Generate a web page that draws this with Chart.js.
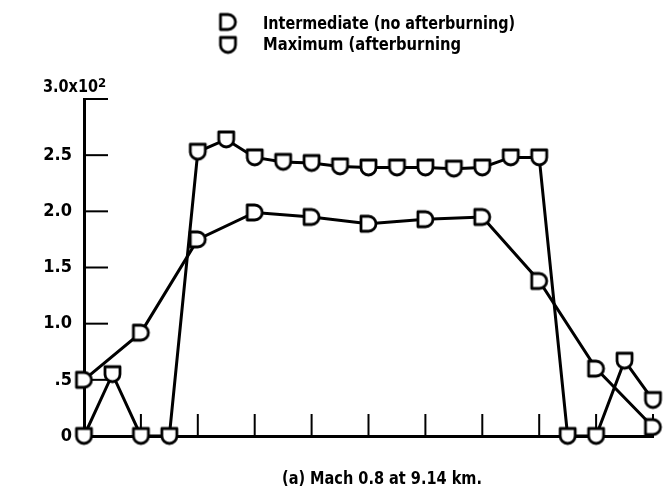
<!DOCTYPE html>
<html>
<head>
<meta charset="utf-8">
<script src="https://cdn.jsdelivr.net/npm/chart.js@4.4.0/dist/chart.umd.min.js"></script>
<style>
  html, body { margin: 0; padding: 0; background: #fff; }
  #wrap { width: 669px; height: 493px; }
</style>
</head>
<body>
<div id="wrap"><canvas id="thrustChart" width="669" height="493"></canvas></div>
<script>
// Thrust history, intermediate vs. maximum power, Mach 0.8 at 9.14 km
const intermediateX = [0, 1, 2, 3, 4, 5, 6, 7, 8, 9, 10];
const intermediateY = [50, 92, 175, 199, 195, 189, 193, 195, 138, 60, 8];

const maximumX = [0, 0.5, 1, 1.5, 2, 2.5, 3, 3.5, 4, 4.5, 5, 5.5, 6, 6.5, 7, 7.5, 8, 8.5, 9, 9.5, 10];
const maximumY = [0, 55, 0, 0, 253, 264, 248, 244, 243, 240, 239, 239, 239, 238, 239, 248, 248, 0, 0, 67, 32];

const yTickValues = [0, 50, 100, 150, 200, 250, 300];
const yTickLabels = ['0', '.5', '1.0', '1.5', '2.0', '2.5', '3.0x10'];
const yExponent = '2';
const xTickValues = [1, 2, 3, 4, 5, 6, 7, 8, 9, 10];

const seriesLabels = ['Intermediate (no afterburning)', 'Maximum (afterburning'];
const caption = '(a) Mach 0.8 at 9.14 km.';

const FONT = '"Liberation Sans Narrow", "Arial Narrow", "DejaVu Sans Condensed", "Liberation Sans", sans-serif';

// D-shaped marker (flat left, round right) and U-shaped marker (flat top, round bottom)
function makeMarker(kind, size) {
    const c = document.createElement('canvas');
    c.width = size + 6;
    c.height = size + 6;
    const g = c.getContext('2d');
    const h = size / 2;
    g.translate(c.width / 2, c.height / 2);
    g.beginPath();
    if (kind === 'D') {
        g.moveTo(-h, -h);
        g.lineTo(0, -h);
        g.arc(0, 0, h, -Math.PI / 2, Math.PI / 2);
        g.lineTo(-h, h);
    } else {
        g.moveTo(-h, h * 0.1);
        g.lineTo(-h, -h);
        g.lineTo(h, -h);
        g.lineTo(h, 0);
        g.arc(0, 0, h, 0, Math.PI);
    }
    g.closePath();
    g.fillStyle = '#fff';
    g.fill();
    g.lineWidth = 2.8;
    g.lineJoin = 'round';
    g.strokeStyle = '#000';
    g.stroke();
    return c;
}

const dMarker = makeMarker('D', 15);
const uMarker = makeMarker('U', 15);

const axisDecor = {
    id: 'axisDecor',
    beforeDatasetsDraw(chart) {
        const { ctx, scales: { x, y } } = chart;
        ctx.save();
        ctx.strokeStyle = '#000';
        ctx.lineWidth = 2;
        // inward tick marks
        yTickValues.slice(1).forEach(v => {
            const py = y.getPixelForValue(v);
            ctx.beginPath();
            ctx.moveTo(x.left, py);
            ctx.lineTo(x.left + 24, py);
            ctx.stroke();
        });
        xTickValues.forEach(v => {
            const px = x.getPixelForValue(v);
            ctx.beginPath();
            ctx.moveTo(px, y.bottom);
            ctx.lineTo(px, y.bottom - 22);
            ctx.stroke();
        });
        ctx.restore();
    },
    afterDraw(chart) {
        const { ctx, scales: { y } } = chart;
        ctx.save();
        ctx.fillStyle = '#000';
        ctx.textAlign = 'left';
        ctx.textBaseline = 'alphabetic';

        // top label with the exponent
        const topY = y.getPixelForValue(300);
        ctx.font = 'bold 17px ' + FONT;
        ctx.fillText(yTickLabels[6], 43, topY - 7, 55);
        ctx.font = 'bold 13px ' + FONT;
        ctx.fillText(yExponent, 98, topY - 12);

        // legend
        ctx.drawImage(dMarker, 228 - dMarker.width / 2, 22 - dMarker.height / 2);
        ctx.drawImage(uMarker, 228 - uMarker.width / 2, 45 - uMarker.height / 2);
        ctx.font = 'bold 18px ' + FONT;
        ctx.fillText(seriesLabels[0], 263, 29, 252);
        ctx.fillText(seriesLabels[1], 263, 50, 198);

        // caption
        ctx.font = 'bold 18px ' + FONT;
        ctx.fillText(caption, 282, 484, 200);
        ctx.restore();
    }
};

const toPoints = (xs, ys) => xs.map((v, i) => ({ x: v, y: ys[i] }));

new Chart(document.getElementById('thrustChart'), {
    type: 'line',
    data: {
        datasets: [
            {
                label: seriesLabels[0],
                data: toPoints(intermediateX, intermediateY),
                borderColor: '#000',
                borderWidth: 3,
                pointStyle: dMarker,
                tension: 0
            },
            {
                label: seriesLabels[1],
                data: toPoints(maximumX, maximumY),
                borderColor: '#000',
                borderWidth: 3,
                pointStyle: uMarker,
                tension: 0
            }
        ]
    },
    options: {
        responsive: false,
        animation: false,
        devicePixelRatio: 1,
        clip: false,
        layout: { padding: { top: 99, right: 16, bottom: 57, left: 0 } },
        plugins: {
            legend: { display: false },
            title: { display: false },
            tooltip: { enabled: false }
        },
        scales: {
            x: {
                type: 'linear',
                min: 0,
                max: 10,
                grid: { display: false, drawTicks: false },
                border: { display: true, color: '#000', width: 3 },
                ticks: { display: false },
                afterFit(scale) { scale.height = 0; }
            },
            y: {
                min: 0,
                max: 300,
                grid: { display: false, drawTicks: false },
                border: { display: true, color: '#000', width: 3 },
                ticks: {
                    stepSize: 50,
                    padding: 12,
                    color: '#000',
                    font: { family: FONT, size: 18, weight: 'bold' },
                    callback: v => v === 300 ? '' : yTickLabels[yTickValues.indexOf(v)]
                },
                afterFit(scale) { scale.width = 84; }
            }
        }
    },
    plugins: [axisDecor]
});
</script>
</body>
</html>
